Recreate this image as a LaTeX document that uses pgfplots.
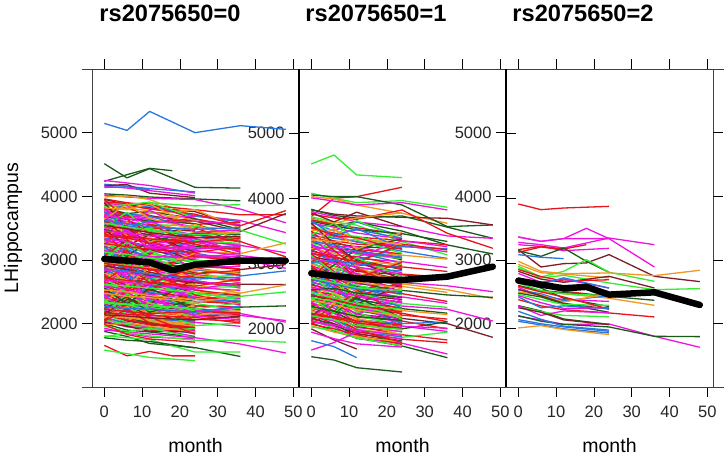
\documentclass[border=0pt]{standalone}
\usepackage{fontspec}
\setmainfont{Liberation Sans}
\usepackage{pgfplots}
\pgfplotsset{compat=1.18}

\definecolor{r}{HTML}{E8141C}
\definecolor{g}{HTML}{33EE33}
\definecolor{b}{HTML}{2878E0}
\definecolor{m}{HTML}{EE14E0}
\definecolor{o}{HTML}{F09820}
\definecolor{d}{HTML}{1A5A1A}
\definecolor{k}{HTML}{7E1E28}

% one subject per line: colour, then values at the visits the macro names
\def\D#1 #2 #3 #4;{\addplot[color=#1] coordinates {(0,#2)(6,#3)(12,#4)};}
\def\A#1 #2 #3 #4 #5;{\addplot[color=#1] coordinates {(0,#2)(6,#3)(12,#4)(24,#5)};}
\def\B#1 #2 #3 #4 #5 #6;{\addplot[color=#1] coordinates {(0,#2)(6,#3)(12,#4)(24,#5)(36,#6)};}
\def\C#1 #2 #3 #4 #5 #6 #7;{\addplot[color=#1] coordinates {(0,#2)(6,#3)(12,#4)(24,#5)(36,#6)(48,#7)};}
\def\E#1 #2;{\addplot[color=#1] coordinates {#2};}

\pgfplotsset{
  panel/.style={scale only axis,width=207pt,height=318pt,anchor=south west,
    xmin=-3.25,xmax=51.5},
  scaleA/.style={ymin=1006,ymax=6000},
  scaleB/.style={ymin=1108,ymax=5986},
  frame/.style={panel,axis line style={color=black!75,line width=0.9pt},
    tick style={color=black,line width=0.8pt},major tick length=10pt,
    tick align=outside,
    xtick={0,10,20,30,40,50},ytick={2000,3000,4000,5000},
    ticklabel style={font=\fontsize{16.5}{16.5}\selectfont,text=black!85},
    /pgf/number format/assume math mode=true,
    /pgf/number format/1000 sep={},
    xticklabel style={yshift=-5pt},yticklabel style={xshift=-1pt},
    xtick pos=both,xticklabel pos=bottom,ytick pos=left},
  ticksonly/.style={panel,axis line style={draw=none},xtick=\empty,
    yticklabels={},tick style={color=black,line width=0.8pt},major tick length=10pt,
    ytick={2000,3000,4000,5000}},
  data/.style={panel,hide axis,clip=false,
    every axis plot/.append style={line width=1.3pt,line join=round}},
  mean/.style={color=black,line width=6.5pt,line join=round,line cap=round},
}

\begin{document}
\begin{tikzpicture}[x=1pt,y=1pt]
\useasboundingbox (0,0) rectangle (727,456);

% axes first: the tick labels of the next panel lie under the lines
\begin{axis}[frame,scaleA,at={(92pt,69pt)}]\end{axis}
\begin{axis}[frame,scaleB,at={(299pt,69pt)}]\end{axis}
\begin{axis}[frame,scaleA,at={(506pt,69pt)}]\end{axis}
\begin{axis}[ticksonly,scaleA,at={(299pt,69pt)},tick align=inside,ytick pos=left]\end{axis}
\begin{axis}[ticksonly,scaleB,at={(506pt,69pt)},tick align=inside,ytick pos=left]\end{axis}
\begin{axis}[ticksonly,scaleA,at={(506pt,69pt)},tick align=outside,ytick pos=right]\end{axis}

\draw[black!75,line width=0.9pt] (82,387)--(724,387) (82,69)--(724,69);
\draw[black,line width=1.2pt] (299,69)--(299,387) (506,69)--(506,387);

\node[font=\bfseries\fontsize{23.6}{23.6}\selectfont,anchor=base] at (170,434) {rs2075650=0};
\node[font=\bfseries\fontsize{23.6}{23.6}\selectfont,anchor=base] at (376,434) {rs2075650=1};
\node[font=\bfseries\fontsize{23.6}{23.6}\selectfont,anchor=base] at (583,434) {rs2075650=2};
\node[font=\fontsize{19.5}{19.5}\selectfont,anchor=base] at (195.5,4) {month};
\node[font=\fontsize{19.5}{19.5}\selectfont,anchor=base] at (402.5,4) {month};
\node[font=\fontsize{19.5}{19.5}\selectfont,anchor=base] at (609.5,4) {month};
\node[font=\fontsize{19.5}{19.5}\selectfont,rotate=90,anchor=base] at (18,228) {LHippocampus};

% ---- rs2075650=0
\begin{axis}[data,scaleA,at={(92pt,69pt)}]
\C b 5146 5036 5334 5000 5110 5052;
\B d 4513 4290 4435 4141 4130;
\E d {(0,4236)(6,4340)(12,4440)(18,4403)};
\A m 4250 4210 4170 4050;
\A b 4190 4160 4120 4070;
\A k 4170 4185 4050 3980;
\A m 4160 4130 4090 4010;
\D b 4140 4150 4105;
\B d 4040 4020 3990 3960 3930;
\C m 4020 3990 3970 3950 3800 3585;
\B o 3990 4005 3950 3690 3620;
\C r 3960 3900 3860 3790 3710 3710;
\B k 3950 3870 3820 3760 3530;
\B g 3930 3860 3900 3850 3870;
\A r 3910 3890 3880 3640;
\C m 3900 3850 3810 3700 3620 3430;
\B b 3880 3820 3850 3690 3600;
\B o 3870 3800 3730 3790 3500;
\C r 3855 3860 3800 3720 3540 3775;
\A g 3840 3870 3910 3660;
\B d 3820 3730 3760 3650 3480;
\B r 3800 3820 3700 3560 3590;
\C k 3790 3720 3690 3610 3450 3730;
\A m 3780 3700 3660 3690;
\B o 3765 3820 3770 3560 3360;
\B r 3750 3690 3600 3640 3540;
\A b 3735 3720 3690 3480;
\B m 3720 3670 3640 3520 3400;
\C g 3700 3590 3560 3530 3470 3250;
\A r 3685 3700 3560 3440;
\B d 3670 3640 3620 3570 3310;
\B o 3655 3530 3590 3430 3440;
\B r 3640 3600 3500 3500 3280;
\B m 3620 3610 3540 3390 3350;
\A k 3610 3510 3450 3470;
\C r 3590 3520 3490 3360 3290 3050;
\B b 3575 3570 3450 3410 3200;
\B g 3560 3480 3500 3310 3340;
\B m 3540 3540 3420 3280 3250;
\A o 3525 3430 3470 3260;
\B r 3505 3490 3380 3330 3130;
\C m 3490 3400 3340 3300 3230 3115;
\B d 3470 3450 3400 3210 3180;
\A b 3455 3360 3310 3220;
\B r 3435 3410 3300 3250 3090;
\C o 3420 3330 3350 3140 3100 3270;
\B m 3405 3390 3260 3190 3170;
\A g 3390 3280 3220 3180;
\B r 3370 3340 3280 3080 3020;
\C m 3355 3270 3200 3150 3070 2990;
\B b 3340 3310 3170 3110 2980;
\A r 3320 3200 3230 3040;
\B m 3305 3250 3140 3080 3050;
\B k 3290 3180 3160 3000 2930;
\A o 3270 3230 3090 3020;
\C m 3255 3140 3050 3060 3010 2870;
\B g 3240 3190 3110 2950 2860;
\B r 3220 3100 3020 2990 2920;
\A b 3205 3160 3060 2910;
\C k 3190 3060 2980 2930 2850 2930;
\B m 3175 3120 2950 2880 2900;
\B r 3155 3030 3000 2850 2770;
\A o 3140 3080 2910 2890;
\B d 3120 2990 2960 2800 2810;
\C b 3105 3040 2890 2850 2750 2830;
\B m 3085 2960 2920 2770 2710;
\A r 3070 3000 2840 2810;
\B g 3055 2930 2880 2730 2760;
\B o 3035 2960 2800 2760 2640;
\A m 3020 2890 2850 2690;
\B r 3000 2920 2770 2730 2680;
\C k 2985 2860 2810 2650 2620 2615;
\B b 2965 2880 2730 2680 2560;
\A m 2950 2820 2770 2610;
\B r 2930 2840 2700 2640 2600;
\B g 2915 2780 2720 2570 2580;
\C o 2900 2800 2660 2610 2480 2610;
\A r 2880 2740 2690 2530;
\B m 2865 2770 2620 2570 2520;
\B d 2845 2700 2650 2490 2450;
\B b 2830 2730 2590 2530 2400;
\A r 2810 2670 2610 2450;
\B o 2795 2690 2550 2490 2480;
\B m 2775 2630 2570 2410 2400;
\C g 2760 2660 2510 2460 2430 2500;
\A k 2740 2600 2530 2380;
\B r 2725 2620 2480 2420 2350;
\B b 2705 2570 2500 2340 2370;
\B m 2690 2590 2440 2390 2300;
\A o 2670 2530 2460 2300;
\B r 2655 2550 2410 2350 2310;
\C d 2635 2500 2430 2280 2260 2280;
\B g 2620 2520 2370 2320 2210;
\A m 2600 2460 2390 2240;
\B r 2585 2480 2340 2280 2260;
\B b 2565 2430 2360 2200 2180;
\C m 2550 2450 2300 2250 2130 2050;
\A o 2530 2390 2320 2170;
\B k 2515 2410 2270 2210 2220;
\B r 2495 2360 2290 2130 2140;
\B g 2480 2370 2230 2180 2240;
\A m 2460 2320 2250 2110;
\B b 2445 2340 2200 2140 2170;
\C m 2425 2290 2210 2210 2160 2025;
\B r 2410 2300 2170 2120 2090;
\B o 2390 2250 2180 2130 2205;
\A d 2375 2270 2140 2040;
\B r 2355 2210 2140 2070 2040;
\A g 2340 2230 2100 2010;
\B m 2320 2180 2110 2020 1960;
\A b 2305 2190 2060 2040;
\A r 2285 2140 2080 1970;
\A o 2270 2150 2020 2000;
\A g 2250 2100 2050 1930;
\A m 2235 2110 1990 1960;
\A r 2215 2060 2010 1900;
\A d 2200 2090 2020 1850;
\A k 2180 2040 1990 1930;
\A o 2165 2100 2040 1960;
\A g 2145 2020 1930 1870;
\A r 2130 2060 1980 1920;
\A m 2110 1990 1950 1890;
\A b 2095 2010 1960 1840;
\A o 2120 2090 2070 1990;
\A r 2075 1970 1900 1880;
\A g 2060 1990 1910 1920;
\A m 2040 1950 1930 1800;
\A k 2020 1960 1880 1870;
\A d 2000 1900 1870 1790;
\A o 1980 2010 1960 1870;
\A g 1960 1880 1930 1780;
\A m 1930 1850 1790 1760;
\C m 1900 1870 1840 1780 1680 1540;
\B d 1880 1800 1690 1625 1485;
\C g 1790 1860 1810 1740 1740 1710;
\B g 1810 1780 1750 1555 1555;
\A d 1780 1740 1720 1620;
\E r {(0,1660)(6,1495)(12,1565)(18,1495)(24,1495)};
\A g 1585 1530 1470 1420;
\A r 1990 1830 1760 1710;
% crossing lines through the dense band
\B r 3950 3640 3420 3050 2990;
\A g 2200 2460 2700 2950;
\B b 2400 2620 2950 3180 3230;
\A m 3810 3460 3300 2830;
\B o 3700 3380 3000 2820 2640;
\A k 2150 2380 2310 2710;
\B r 3430 3100 2880 2450 2320;
\A g 3300 3010 2640 2420;
\B m 2620 2870 3110 3280 3150;
\A b 3100 2800 2460 2210;
\B d 2800 3060 3300 3420 3400;
\A o 2950 2620 2320 2080;
\B r 2280 2510 2620 2900 2860;
\A m 3580 3280 3050 2710;
\B g 2720 2480 2230 1970 2010;
\A r 2500 2250 2100 1840;
\B b 3200 2950 2720 2380 2350;
\A k 3900 3500 3250 2980;
\A o 2340 2600 2880 3100;
\B m 3000 2720 2400 2120 2060;
\A r 2060 2320 2540 2760;
\B g 3520 3750 3440 3310 3260;
\A m 2190 2500 2280 2560;
\B r 3060 3320 3090 3410 3290;
\A d 2560 2310 2560 2210;
\B o 3340 3600 3280 3560 3320;
\A b 3760 3500 3620 3290;
\A r 2870 3150 2830 3080;
\B m 2450 2180 2400 2150 2270;
\A g 3180 2900 3150 2850;
\B r 3620 3350 3560 3240 3180;
\A o 2090 2270 2050 2300;
\A k 3480 3220 3400 3120;
\B r 2660 2920 2640 2880 2760;
\A g 2380 2140 2330 2090;
\B m 3820 3560 3780 3440 3470;
\A b 2960 3220 2990 3240;
\A r 2040 2230 2010 1940;
\A o 3640 3880 3650 3480;
\B r 2770 2520 2780 2530 2440;
\A m 3250 3480 3240 3350;
\A g 3030 3280 3060 2760;
\A d 2240 2420 2180 2390;
\A m 3690 3440 3180 3210;
\E k {(0,2910)(6,2850)(12,2760)(18,2700)(24,2640)};
\E r {(0,3380)(6,3350)(12,3260)(18,3330)(24,3250)};
\E m {(0,2590)(6,2540)(12,2450)(18,2510)(24,2420)};
\E g {(0,2320)(6,2300)(12,2210)(18,2280)(24,2200)};
\E o {(0,3820)(6,3790)(12,3880)(18,3700)(24,3620)};
% more subjects kept to month 36, filling the band there
\B m 3460 3420 3380 3340 3120;
\B r 3260 3210 3170 3120 3210;
\B g 2340 2310 2280 2230 2330;
\B o 2960 2910 2870 2860 2790;
\B b 3620 3570 3520 3480 3510;
\B k 2140 2120 2090 2060 2120;
\B r 2720 2680 2650 2590 2700;
\B m 3150 3090 3060 3030 3110;
\B g 3580 3520 3470 3400 3420;
\B o 2530 2500 2440 2380 2550;
\B d 3010 2970 2930 2900 3050;
\B r 2230 2190 2160 2190 2170;
\B m 2840 2800 2740 2670 2590;
\B b 2270 2240 2230 2180 2280;
\B r 3400 3370 3330 3280 3340;
\B g 3120 3090 3030 2990 3000;
\B m 2690 2650 2610 2540 2650;
\B k 3540 3490 3430 3350 3370;
\B o 2480 2430 2410 2340 2420;
\B r 2950 2900 2860 2780 2840;
\B m 3700 3650 3590 3610 3560;
\B b 2860 2830 2780 2700 2730;
\B r 2170 2150 2130 2100 2010;
\B m 3330 3290 3220 3170 3210;
\B g 2620 2590 2560 2490 2370;
\addplot[mean] coordinates {(0,3017)(6,2990)(12,2964)(18,2838)(24,2928)(36,2990)(48,2990)};
\end{axis}

% ---- rs2075650=1
\begin{axis}[data,scaleB,at={(299pt,69pt)}]
\E g {(0,4529)(6,4667)(12,4361)(24,4320)};
\A r 3722 4003 4028 4172;
\B g 4080 4003 3936 3967 3865;
\B o 4028 3993 3900 3773 3619;
\C d 4054 4028 4028 3900 3568 3594;
\B m 4010 3960 3900 3936 3824;
\C k 3824 3760 3732 3711 3696 3594;
\C d 3834 3740 3700 3732 3560 3389;
\C m 3800 3720 3640 3568 3425 3389;
\C r 3760 3700 3680 3824 3466 3236;
\C d 3700 3590 3640 3500 3287 3149;
\B g 3720 3640 3590 3338 3134;
\A k 3780 3640 3790 3570;
\A o 3690 3620 3700 3780;
\A r 3670 3600 3550 3450;
\A b 3640 3500 3640 3420;
\A g 3600 3420 3660 3380;
\B d 3650 3580 3520 3460 3340;
\A m 3620 3560 3470 3380;
\A b 3560 3450 3520 3390;
\B r 3540 3470 3410 3350 3290;
\A o 3510 3520 3380 3310;
\A g 3490 3400 3420 3240;
\B m 3470 3430 3330 3280 3180;
\A r 3450 3350 3300 3270;
\B b 3430 3390 3340 3190 3080;
\A d 3410 3310 3260 3230;
\A r 3390 3340 3220 3150;
\A m 3370 3260 3260 3120;
\B o 3350 3300 3180 3130 3070;
\A k 3330 3230 3210 3060;
\A g 3310 3240 3140 3080;
\A b 3290 3180 3170 3010;
\B m 3270 3200 3080 3030 2940;
\A r 3250 3130 3110 2970;
\A o 3230 3160 3030 2990;
\A d 3210 3080 3060 2910;
\B r 3190 3120 2980 2950 2880;
\A m 3170 3040 3000 2860;
\A b 3150 3080 2930 2890;
\A g 3130 3000 2950 2810;
\B k 3110 3040 2880 2830 2780;
\A r 3090 2960 2900 2760;
\A o 3070 3000 2830 2780;
\C m 3050 2920 2850 2710 2660 2570;
\A g 3030 2960 2780 2730;
\A b 3010 2880 2800 2660;
\C o 2990 2920 2740 2690 2600 2468;
\A r 2970 2840 2760 2620;
\A m 2950 2880 2690 2640;
\A d 2930 2800 2710 2570;
\C d 2910 2840 2650 2590 2520 2483;
\A g 2890 2760 2670 2520;
\B r 2870 2800 2610 2540 2420;
\A b 2850 2720 2620 2480;
\B m 2830 2760 2570 2490 2390;
\A o 2810 2680 2590 2440;
\A k 2790 2720 2520 2450;
\B g 2770 2640 2550 2390 2330;
\A r 2750 2680 2490 2410;
\C m 2730 2600 2500 2350 2300 2120;
\A b 2710 2640 2440 2360;
\B d 2690 2560 2460 2310 2240;
\A r 2670 2600 2400 2320;
\A g 2650 2520 2420 2270;
\B o 2630 2560 2350 2280 2220;
\A m 2610 2480 2370 2230;
\B r 2590 2520 2310 2240 2110;
\A b 2570 2440 2330 2190;
\A g 2550 2480 2270 2200;
\A d 2530 2400 2290 2150;
\C k 2510 2440 2220 2160 2080 1870;
\A m 2490 2360 2240 2100;
\B r 2470 2400 2180 2120 2000;
\A g 2450 2320 2200 2060;
\B b 2430 2360 2140 2080 2105;
\A o 2410 2280 2160 2020;
\B m 2390 2320 2100 2040 1960;
\A r 2370 2240 2120 1990;
\B d 2350 2280 2060 2000 2110;
\A g 2330 2200 2080 1950;
\A m 2310 2240 2020 1960;
\B r 2290 2160 2040 1910 1829;
\A o 2270 2200 1990 1920;
\B g 2250 2120 2000 1870 1950;
\A b 2230 2160 1950 1880;
\B r 2210 2080 1960 1840 1788;
\A m 2190 2120 1920 1850;
\A k 2170 2050 1930 1810;
\A d 2150 2080 1880 1820;
\A g 2130 2010 1890 1780;
\B m 2110 2040 1850 1780 1614;
\B d 2090 1970 1860 1737 1558;
\A r 2070 2000 1910 1760;
\A o 2050 1950 1880 1800;
\A g 2030 1980 1860 1740;
\D k 2000 1830 1691;
\D m 1675 1790 1950;
\E d {(0,1573)(6,1522)(12,1404)(24,1338)};
\D b 1819 1727 1558;
\A m 1950 1850 1770 1720;
% crossing lines through the dense band
\A r 3500 3200 2950 2620;
\A g 2300 2520 2790 3010;
\B b 2500 2750 3050 3260 3230;
\A m 3300 3020 2770 2410;
\B o 3600 3290 2960 2650 2560;
\A k 2200 2430 2380 2680;
\B r 3150 2880 2600 2210 2150;
\A g 3050 2740 2400 2150;
\B m 2600 2850 3100 3350 3260;
\A b 2900 2620 2360 2080;
\A d 2750 2980 3220 3380;
\A o 2660 2400 2130 1900;
\B r 2120 2360 2540 2840 2790;
\A m 3400 3110 2830 2550;
\A g 2820 2540 2260 1980;
\A r 2400 2170 1990 1790;
\A b 3100 2860 2620 2320;
\A k 3620 3300 3040 2760;
\A o 2280 2540 2800 3050;
\B m 2980 2660 2380 2040 2010;
\A r 2080 2270 2500 2710;
\A g 3440 3620 3360 3160;
\A m 2160 2440 2220 2490;
\B r 3020 3270 3020 3300 3210;
\A d 2500 2240 2480 2170;
\A o 3320 3540 3220 3480;
\A b 3660 3420 3540 3230;
\A r 2800 3080 2780 3020;
\A m 2420 2160 2380 2120;
\A g 3120 2860 3090 2800;
\A r 2960 2690 2920 2640;
\A g 2480 2240 2560 2360;
\A b 3020 3050 3000 2940;
\A m 3210 3260 3160 3090;
\A r 2180 2190 2120 2060;
\A d 2600 2620 2550 2480;
\A o 3380 3330 3380 3290;
\E r {(0,3560)(6,3430)(12,3400)(18,3300)(24,3220)};
\E m {(0,2860)(6,2790)(12,2700)(18,2760)(24,2670)};
\E g {(0,2480)(6,2420)(12,2330)(18,2280)(24,2180)};
% the band past month 12 is closer packed than the lines above leave it
\A g 2560 2470 2380 2300;
\A r 2240 2170 2090 2010;
\A m 3080 3010 2950 2840;
\A b 2760 2690 2610 2560;
\A o 2440 2370 2290 2190;
\A r 2920 2850 2790 2690;
\A g 2200 2140 2050 1990;
\A m 2640 2570 2510 2400;
\A d 2340 2270 2190 2130;
\A r 3160 3100 3030 2920;
\A b 3340 3290 3190 3100;
\A g 2780 2710 2630 2590;
\A r 2520 2450 2360 2260;
\A m 2120 2060 1980 1900;
\A o 2880 2820 2720 2620;
\addplot[mean] coordinates {(0,2853)(6,2811)(12,2776)(18,2750)(24,2750)(36,2801)(48,2954)};
\end{axis}

% ---- rs2075650=2
\begin{axis}[data,scaleA,at={(506pt,69pt)}]
\A r 3880 3791 3817 3843;
\B m 3362 3294 3336 3336 2891;
\E m {(0,3362)(6,3294)(12,3336)(18,3498)(24,3336)};
\B m 3278 3241 3189 3346 3241;
\A m 3241 3215 3147 3184;
\E r {(0,3163)(6,3215)(12,3173)(18,3241)};
\D r 3121 3205 3163;
\E k {(0,3163)(6,2891)(12,2943)(18,2954)(24,3085)(36,2744)(48,2661)};
\E d {(0,3147)(6,3058)(12,3189)(18,2980)(24,2807)};
\E g {(0,2901)(6,2734)(12,2823)(18,3006)(24,2807)(36,2666)};
\D b 3085 3043 3022;
\C o 2980 2823 2786 2797 2755 2839;
\A o 2930 2800 2780 2720;
\C g 2875 2718 2760 2640 2535 2551;
\B k 2823 2700 2650 2744 2561;
\A r 2850 2740 2670 2690;
\A m 2790 2650 2700 2560;
\A b 2690 2620 2720 2560;
\B o 2587 2500 2470 2400 2289;
\A r 2720 2590 2510 2430;
\A d 2660 2560 2400 2270;
\B d 2600 2520 2490 2430 2368;
\A g 2640 2520 2470 2440;
\A m 2570 2430 2380 2350;
\A b 2530 2470 2360 2440;
\A o 2500 2450 2340 2470;
\A k 2540 2440 2320 2230;
\A d 2480 2420 2310 2180;
\A g 2460 2380 2300 2290;
\B r 2378 2280 2220 2169 2106;
\A m 2440 2330 2240 2250;
\A r 2590 2500 2420 2230;
\A d 2284 2200 2074 1990;
\A b 2420 2250 2280 2240;
\A g 2270 2190 2130 2110;
\A m 2280 2130 2200 2170;
\C m 2116 2060 1990 1996 1802 1630;
\C d 2126 2040 1990 1949 1802 1797;
\A b 2195 2070 1960 1900;
\A k 2250 2180 2060 1985;
\A b 2064 2000 1950 1881;
\A b 2038 1980 1920 1855;
\A o 1933 1970 1910 1829;
\addplot[mean] coordinates {(0,2677)(6,2614)(12,2556)(18,2578)(24,2457)(36,2493)(48,2295)};
\end{axis}
\end{tikzpicture}
\end{document}
